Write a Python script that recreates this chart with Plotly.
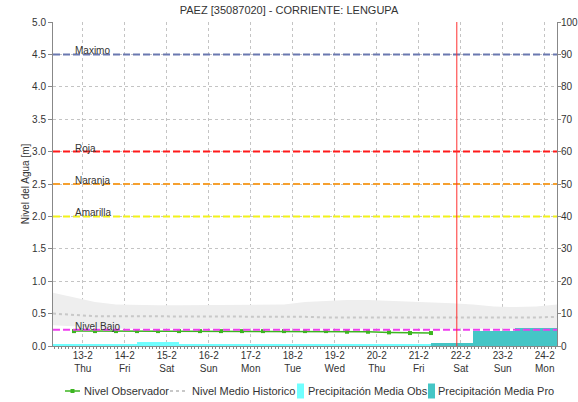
import pandas as pd
import plotly.graph_objects as go

TITLE = "PAEZ [35087020] - CORRIENTE: LENGUPA"

# x range / reference instant
x_start = "2025-02-12 07:00"
x_end = "2025-02-24 07:00"
now_time = "2025-02-21 21:45"

# historical band (every 12 h from 12-2 07:00 to 24-2 07:00)
hist_times = pd.date_range("2025-02-12 07:00", "2025-02-24 07:00", freq="12h")
hist_upper = [0.82, 0.75, 0.68, 0.64, 0.63, 0.63, 0.63, 0.63, 0.63, 0.63, 0.63, 0.64, 0.68,
              0.70, 0.71, 0.71, 0.70, 0.69, 0.68, 0.66, 0.64, 0.61, 0.60, 0.61, 0.64]
hist_lower = [0.32, 0.30, 0.28, 0.27, 0.27, 0.27, 0.27, 0.27, 0.27, 0.27, 0.27, 0.27, 0.27,
              0.27, 0.27, 0.27, 0.27, 0.27, 0.27, 0.27, 0.27, 0.27, 0.27, 0.27, 0.27]
hist_mean = [0.50, 0.48, 0.46, 0.46, 0.46, 0.46, 0.46, 0.46, 0.46, 0.46, 0.46, 0.45, 0.45,
             0.44, 0.44, 0.44, 0.44, 0.44, 0.43, 0.43, 0.43, 0.43, 0.44, 0.44, 0.45]

# observed level (every 12 h)
obs_times = pd.date_range("2025-02-12 19:00", "2025-02-21 07:00", freq="12h")
obs_level = [0.23, 0.23, 0.23, 0.23, 0.23, 0.23, 0.23, 0.23, 0.23, 0.23, 0.23, 0.23,
             0.23, 0.22, 0.22, 0.21, 0.20, 0.20]

# daily precipitation (bars start at 07:00)
precip_obs_days = pd.date_range("2025-02-12 07:00", "2025-02-20 07:00", freq="D")
precip_obs = [0.6, 0.6, 1.3, 0.6, 0.6, 0.6, 0.6, 0.6, 0.6]
precip_pro_days = pd.date_range("2025-02-21 07:00", "2025-02-23 07:00", freq="D")
precip_pro = [0.8, 4.7, 5.6]

# thresholds
thr_names = ["Maximo", "Roja", "Naranja", "Amarilla", "Nivel Bajo"]
thr_values = [4.5, 3.0, 2.5, 2.0, 0.25]
thr_colors = ["#6a78b0", "#ff1a1a", "#f5a030", "#f2f21a", "#ee3cee"]
thr_label_x = "2025-02-12 18:30"

# x ticks
tick_days = pd.date_range("2025-02-13", "2025-02-24", freq="D")
tick_dates = ["13-2", "14-2", "15-2", "16-2", "17-2", "18-2", "19-2", "20-2", "21-2", "22-2", "23-2", "24-2"]
tick_weekdays = ["Thu", "Fri", "Sat", "Sun", "Mon", "Tue", "Wed", "Thu", "Fri", "Sat", "Sun", "Mon"]

# legend entries
legend_names = ["Nivel Observador", "Nivel Medio Historico", "Precipitación Media Obs", "Precipitación Media Pro"]

FONT = "Liberation Sans, Arial, sans-serif"
TXT = "#333333"
DAY_MS = 86400000
C_OBS = "#3db521"
C_MEAN = "#c8c8c8"
C_POBS = "#70ffff"
C_PPRO = "#45c6c6"

W, H = 578, 402
ML, MR, MT, MB = 53, 21, 22, 56
PW, PH = W - ML - MR, H - MT - MB


def px(x):
    return (x - ML) / PW


def py(y):
    return (H - MB - y) / PH


fig = go.Figure()

# historical band
fig.add_trace(go.Scatter(x=hist_times, y=hist_lower, mode="lines", line=dict(width=0, color="#eeeeee"),
                         showlegend=False, hoverinfo="skip"))
fig.add_trace(go.Scatter(x=hist_times, y=hist_upper, mode="lines", line=dict(width=0, color="#eeeeee"),
                         fill="tonexty", fillcolor="#eeeeee", showlegend=False, hoverinfo="skip"))

fig.add_trace(go.Scatter(x=obs_times, y=obs_level, mode="lines+markers", name=legend_names[0],
                         line=dict(color=C_OBS, width=1.5),
                         marker=dict(symbol="square", size=4, color=C_OBS), showlegend=False))
fig.add_trace(go.Scatter(x=hist_times, y=hist_mean, mode="lines", name=legend_names[1],
                         line=dict(color=C_MEAN, width=2, dash="3px,3px"), showlegend=False))

fig.add_trace(go.Bar(x=precip_obs_days, y=precip_obs, width=DAY_MS, offset=0, yaxis="y2",
                     name=legend_names[2], marker=dict(color=C_POBS, line=dict(width=0)), showlegend=False))
fig.add_trace(go.Bar(x=precip_pro_days, y=precip_pro, width=DAY_MS, offset=0, yaxis="y2",
                     name=legend_names[3], marker=dict(color=C_PPRO, line=dict(width=0)), showlegend=False))

shapes = []
annotations = []
for name, val, col in zip(thr_names, thr_values, thr_colors):
    shapes.append(dict(type="line", xref="paper", x0=0, x1=1, yref="y", y0=val, y1=val,
                       line=dict(color=col, width=2, dash="7px,3px"), layer="above"))
    annotations.append(dict(x=thr_label_x, y=val, xref="x", yref="y", text=name, showarrow=False,
                            xanchor="left", yanchor="bottom", yshift=-4,
                            font=dict(family=FONT, size=10, color=TXT)))
shapes.append(dict(type="line", xref="x", x0=now_time, x1=now_time, yref="paper", y0=0, y1=1,
                   line=dict(color="#ff3030", width=1), layer="above"))

# manual legend (one row, below the plot)
LY = 391
leg_text_x = [83, 191, 307, 437]
# item 1: line + square marker
shapes.append(dict(type="line", xref="paper", yref="paper", x0=px(65), x1=px(80), y0=py(LY), y1=py(LY),
                   line=dict(color=C_OBS, width=1.5)))
shapes.append(dict(type="rect", xref="paper", yref="paper", x0=px(70.5), x1=px(74.5), y0=py(LY - 2), y1=py(LY + 2),
                   fillcolor=C_OBS, line=dict(width=0)))
# item 2: dotted line
shapes.append(dict(type="line", xref="paper", yref="paper", x0=px(170), x1=px(188), y0=py(LY), y1=py(LY),
                   line=dict(color=C_MEAN, width=2, dash="3px,3px")))
# item 3/4: squares
shapes.append(dict(type="rect", xref="paper", yref="paper", x0=px(297), x1=px(304), y0=py(LY - 7.5), y1=py(LY + 7.5),
                   fillcolor=C_POBS, line=dict(width=0)))
shapes.append(dict(type="rect", xref="paper", yref="paper", x0=px(428), x1=px(435), y0=py(LY - 7.5), y1=py(LY + 7.5),
                   fillcolor=C_PPRO, line=dict(width=0)))
for name, tx in zip(legend_names, leg_text_x):
    annotations.append(dict(x=px(tx), y=py(LY), xref="paper", yref="paper", text=name, showarrow=False,
                            xanchor="left", yanchor="middle", borderpad=0,
                            font=dict(family=FONT, size=11, color=TXT)))

fig.update_layout(
    width=W, height=H,
    margin=dict(l=ML, r=MR, t=MT, b=MB, autoexpand=False),
    paper_bgcolor="white", plot_bgcolor="white",
    font=dict(family=FONT, size=10, color=TXT),
    title=dict(text=TITLE, x=0.5, xanchor="center", y=1 - 10 / H, yanchor="middle",
               font=dict(family=FONT, size=11, color=TXT)),
    showlegend=False,
    barmode="overlay", bargap=0,
    shapes=shapes, annotations=annotations,
    xaxis=dict(type="date", range=[x_start, x_end], tickvals=list(tick_days),
               ticktext=[f"{d}<br>{w}" for d, w in zip(tick_dates, tick_weekdays)],
               showgrid=True, gridcolor="#c4c4c4", griddash="dot", gridwidth=1,
               showline=True, linecolor="#888888", linewidth=1, ticks="",
               minor=dict(dtick=2 * 3600000, ticks="outside", ticklen=2, tickcolor="#888888", showgrid=False),
               tickfont=dict(size=10, color=TXT), zeroline=False, automargin=False),
    yaxis=dict(range=[0, 5], dtick=0.5, tickformat=".1f", showgrid=True, gridcolor="#c4c4c4",
               griddash="dot", gridwidth=1, showline=True, linecolor="#888888", linewidth=1,
               ticks="outside", ticklen=4, tickcolor="#888888", zeroline=False, automargin=False,
               title=dict(text="Nivel del Agua [m]", font=dict(size=10, color=TXT), standoff=0),
               tickfont=dict(size=10, color=TXT)),
    yaxis2=dict(range=[0, 100], dtick=10, overlaying="y", side="right", showgrid=False,
                showline=True, linecolor="#888888", linewidth=1, ticks="outside", ticklen=3,
                ticklabelstandoff=-2,
                tickcolor="#888888", zeroline=False, automargin=False, tickfont=dict(size=10, color=TXT)),
)

fig.write_html("out.html", config={"displayModeBar": False},
               post_script="document.body.style.margin='0';document.body.style.overflow='hidden';")
